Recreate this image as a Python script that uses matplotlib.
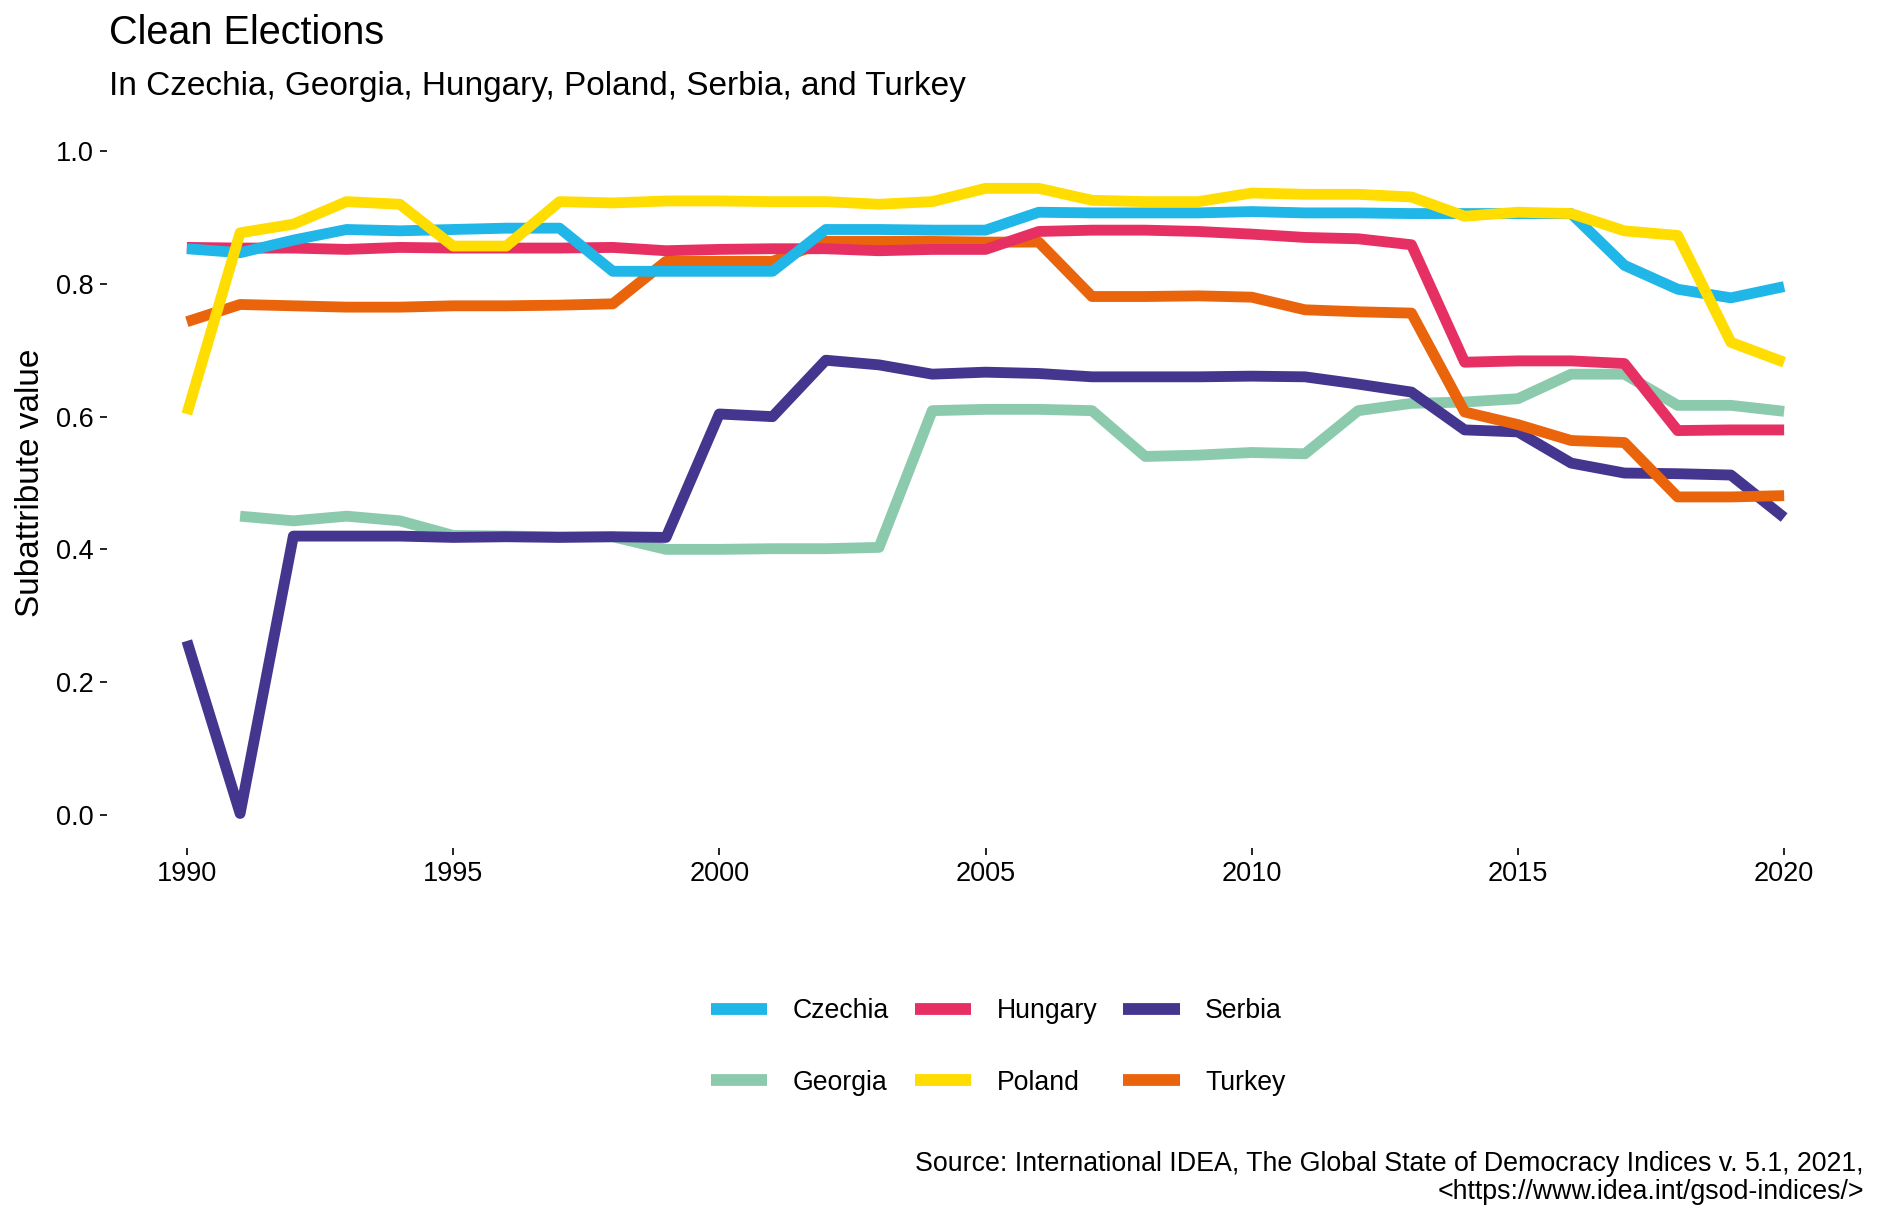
import matplotlib
matplotlib.use("Agg")
import matplotlib.pyplot as plt
from matplotlib.lines import Line2D

years = list(range(1990, 2021))

czechia = [0.853, 0.847, 0.866, 0.882, 0.880, 0.882, 0.884, 0.884, 0.819, 0.819,
           0.819, 0.819, 0.882, 0.882, 0.881, 0.881, 0.908, 0.907, 0.907, 0.907,
           0.909, 0.907, 0.907, 0.906, 0.906, 0.906, 0.906, 0.828, 0.792, 0.779, 0.796]
georgia = [None, 0.450, 0.443, 0.450, 0.443, 0.421, 0.420, 0.419, 0.419, 0.400,
           0.400, 0.401, 0.401, 0.403, 0.609, 0.611, 0.611, 0.609, 0.540, 0.542,
           0.546, 0.544, 0.609, 0.620, 0.622, 0.627, 0.664, 0.664, 0.617, 0.617, 0.608]
hungary = [0.855, 0.854, 0.854, 0.852, 0.855, 0.854, 0.854, 0.854, 0.855, 0.850,
           0.852, 0.853, 0.853, 0.850, 0.852, 0.852, 0.879, 0.881, 0.881, 0.879,
           0.875, 0.870, 0.868, 0.859, 0.682, 0.684, 0.684, 0.680, 0.579, 0.580, 0.580]
poland = [0.604, 0.877, 0.890, 0.924, 0.920, 0.857, 0.857, 0.924, 0.922, 0.925,
          0.925, 0.924, 0.924, 0.920, 0.924, 0.944, 0.944, 0.926, 0.924, 0.924,
          0.937, 0.935, 0.935, 0.931, 0.902, 0.908, 0.906, 0.880, 0.873, 0.712, 0.682]
serbia = [0.262, 0.002, 0.420, 0.420, 0.420, 0.418, 0.419, 0.418, 0.419, 0.418,
          0.604, 0.600, 0.685, 0.678, 0.664, 0.667, 0.665, 0.660, 0.660, 0.660,
          0.661, 0.660, 0.649, 0.637, 0.580, 0.577, 0.530, 0.515, 0.514, 0.512, 0.448]
turkey = [0.743, 0.769, 0.767, 0.765, 0.765, 0.767, 0.767, 0.768, 0.770, 0.834,
          0.834, 0.834, 0.864, 0.864, 0.864, 0.863, 0.863, 0.781, 0.781, 0.782,
          0.780, 0.761, 0.758, 0.756, 0.607, 0.588, 0.564, 0.561, 0.479, 0.479, 0.481]

countries = ["Czechia", "Georgia", "Hungary", "Poland", "Serbia", "Turkey"]
series = [czechia, georgia, hungary, poland, serbia, turkey]
colors = ["#20B6E7", "#8CCAAE", "#E62F62", "#FFDD00", "#44358E", "#EA640C"]
draw_order = ["Georgia", "Serbia", "Turkey", "Hungary", "Czechia", "Poland"]

x_ticks = [1990, 1995, 2000, 2005, 2010, 2015, 2020]
y_ticks = [0.0, 0.2, 0.4, 0.6, 0.8, 1.0]

plt.rcParams['font.family'] = ['Liberation Sans', 'DejaVu Sans']

fig = plt.figure(figsize=(18.81, 12.22), dpi=100)
ax = fig.add_axes([107/1881, 1 - 848/1222, (1864-107)/1881, (848-118)/1222])

for name in draw_order:
    i = countries.index(name)
    xs = [y for y, v in zip(years, series[i]) if v is not None]
    vs = [v for v in series[i] if v is not None]
    ax.plot(xs, vs, color=colors[i], lw=7.8, solid_joinstyle='round',
            solid_capstyle='butt', zorder=2)

ax.set_xlim(1988.5, 2021.5)
ax.set_ylim(-0.05, 1.05)
ax.set_xticks(x_ticks)
ax.set_xticklabels([str(t) for t in x_ticks])
ax.set_yticks(y_ticks)
ax.set_yticklabels([f"{t:.1f}" for t in y_ticks])
for s in ax.spines.values():
    s.set_visible(False)
ax.tick_params(axis='both', length=5, width=1.4, color='#222222', labelsize=19.5,
               labelcolor='black', pad=4.5)
ax.set_ylabel("Subattribute value", fontsize=24, labelpad=7)

handles = [Line2D([0], [0], color=c, lw=8.5, solid_capstyle='butt') for c in colors]
leg = fig.legend(handles, countries, ncol=3, loc='center',
                 bbox_to_anchor=(998/1881, 1 - 1047/1222), frameon=False,
                 fontsize=19.2, handlelength=2.13, handletextpad=0.94,
                 columnspacing=0.97, labelspacing=1.7)

fig.text(109/1881, 1 - 44/1222, "Clean Elections", fontsize=28.5, va='baseline', ha='left')
fig.text(109/1881, 1 - 95/1222, "In Czechia, Georgia, Hungary, Poland, Serbia, and Turkey",
         fontsize=24, va='baseline', ha='left')
fig.text(1864/1881, 1 - 1178/1222,
         "Source: International IDEA, The Global State of Democracy Indices v. 5.1, 2021,\n<https://www.idea.int/gsod-indices/>",
         fontsize=19.3, va='center', ha='right', multialignment='right', linespacing=1.1)

fig.savefig("out.png", dpi=100)
